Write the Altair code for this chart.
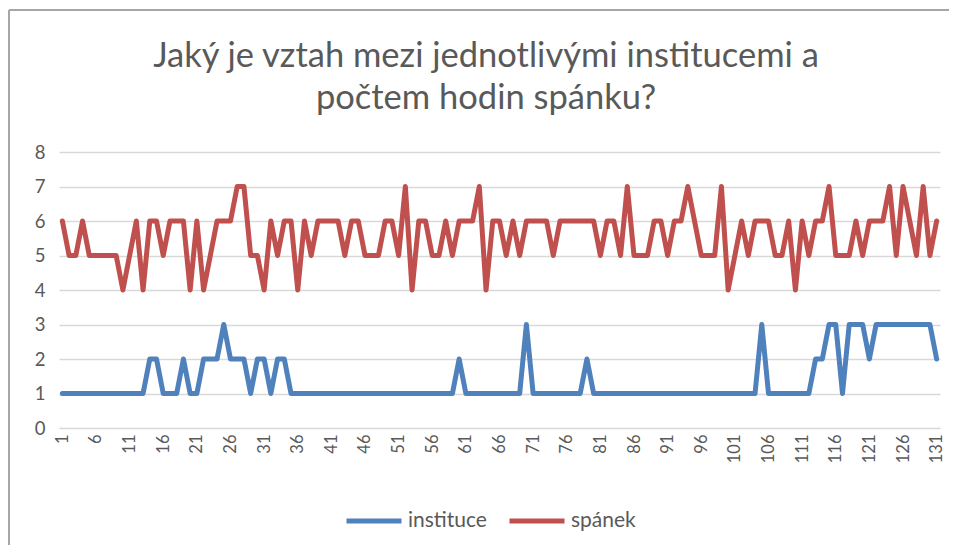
import altair as alt
import pandas as pd

# respondent index 1..131
respondents = list(range(1, 132))

instituce = [
    1, 1, 1, 1, 1, 1, 1, 1, 1, 1,
    1, 1, 1, 2, 2, 1, 1, 1, 2, 1,
    1, 2, 2, 2, 3, 2, 2, 2, 1, 2,
    2, 1, 2, 2, 1, 1, 1, 1, 1, 1,
    1, 1, 1, 1, 1, 1, 1, 1, 1, 1,
    1, 1, 1, 1, 1, 1, 1, 1, 1, 2,
    1, 1, 1, 1, 1, 1, 1, 1, 1, 3,
    1, 1, 1, 1, 1, 1, 1, 1, 2, 1,
    1, 1, 1, 1, 1, 1, 1, 1, 1, 1,
    1, 1, 1, 1, 1, 1, 1, 1, 1, 1,
    1, 1, 1, 1, 3, 1, 1, 1, 1, 1,
    1, 1, 2, 2, 3, 3, 1, 3, 3, 3,
    2, 3, 3, 3, 3, 3, 3, 3, 3, 3,
    2,
]

spanek = [
    6, 5, 5, 6, 5, 5, 5, 5, 5, 4,
    5, 6, 4, 6, 6, 5, 6, 6, 6, 4,
    6, 4, 5, 6, 6, 6, 7, 7, 5, 5,
    4, 6, 5, 6, 6, 4, 6, 5, 6, 6,
    6, 6, 5, 6, 6, 5, 5, 5, 6, 6,
    5, 7, 4, 6, 6, 5, 5, 6, 5, 6,
    6, 6, 7, 4, 6, 6, 5, 6, 5, 6,
    6, 6, 6, 5, 6, 6, 6, 6, 6, 6,
    5, 6, 6, 5, 7, 5, 5, 5, 6, 6,
    5, 6, 6, 7, 6, 5, 5, 5, 7, 4,
    5, 6, 5, 6, 6, 6, 5, 5, 6, 4,
    6, 5, 6, 6, 7, 5, 5, 5, 6, 5,
    6, 6, 6, 7, 5, 7, 6, 5, 7, 5,
    6,
]

series_names = ["instituce", "spánek"]
series_colors = ["#4F81BD", "#C0504D"]
x_ticks = list(range(1, 132, 5))
y_ticks = [0, 1, 2, 3, 4, 5, 6, 7, 8]
title_lines = ["Jaký je vztah mezi jednotlivými institucemi a", "počtem hodin spánku?"]

rows = []
for name, vals in zip(series_names, [instituce, spanek]):
    for i, v in zip(respondents, vals):
        rows.append({"respondent": i, "hodnota": v, "serie": name})
df = pd.DataFrame(rows)

FONT = "Lato"
GREY = "#595959"

lines = alt.Chart(df).mark_line(strokeWidth=5, strokeJoin="round", strokeCap="round").encode(
    x=alt.X("respondent:Q",
            scale=alt.Scale(domain=[0.5, 131.5], nice=False, zero=False),
            axis=alt.Axis(values=x_ticks, title=None, labelAngle=-90, labelFontSize=16.5,
                          labelColor=GREY, labelFont=FONT, grid=False, ticks=False,
                          domainColor="#d9d9d9", domainWidth=1, labelPadding=6)),
    y=alt.Y("hodnota:Q",
            scale=alt.Scale(domain=[0, 8], nice=False),
            axis=alt.Axis(values=y_ticks, title=None, labelFontSize=18.5, labelColor=GREY,
                          labelFont=FONT, gridColor="#d9d9d9", gridWidth=1.3, domain=False,
                          ticks=False, labelPadding=14)),
    color=alt.Color("serie:N",
                    scale=alt.Scale(domain=series_names, range=series_colors),
                    legend=alt.Legend(title=None, orient="none", direction="horizontal",
                                      legendX=285, legendY=339, symbolType="stroke",
                                      symbolSize=3025, symbolStrokeWidth=5,
                                      labelFontSize=21, labelColor=GREY, labelFont=FONT,
                                      labelLimit=300,
                                      columnPadding=12, labelOffset=4, padding=0)),
)

frame_top = alt.Chart(df).mark_rule(color="#a6a6a6", strokeWidth=1.5).encode(
    x=alt.value(-50), x2=alt.value(900), y=alt.value(-142))
frame_left = alt.Chart(df).mark_rule(color="#a6a6a6", strokeWidth=1.5).encode(
    x=alt.value(-50), y=alt.value(-142), y2=alt.value(400))

title_df = pd.DataFrame({"line": title_lines, "order": [0, 1]})
title = alt.Chart(title_df).mark_text(
    font=FONT, fontSize=34.5, color=GREY, align="center", baseline="alphabetic"
).encode(
    text="line:N",
    x=alt.value(427),
    y=alt.Y("order:Q", scale=alt.Scale(domain=[0, 1], range=[-85, -43]), axis=None),
)

chart = alt.layer(frame_top, frame_left, lines, title).resolve_scale(y="independent").properties(
    width=881,
    height=276,
    autosize=alt.AutoSizeParams(type="none"),
    padding={"left": 51, "top": 144, "right": 9, "bottom": 117},
).configure_view(stroke=None)

chart.save("out.html", embed_options={"renderer": "svg", "actions": False})
